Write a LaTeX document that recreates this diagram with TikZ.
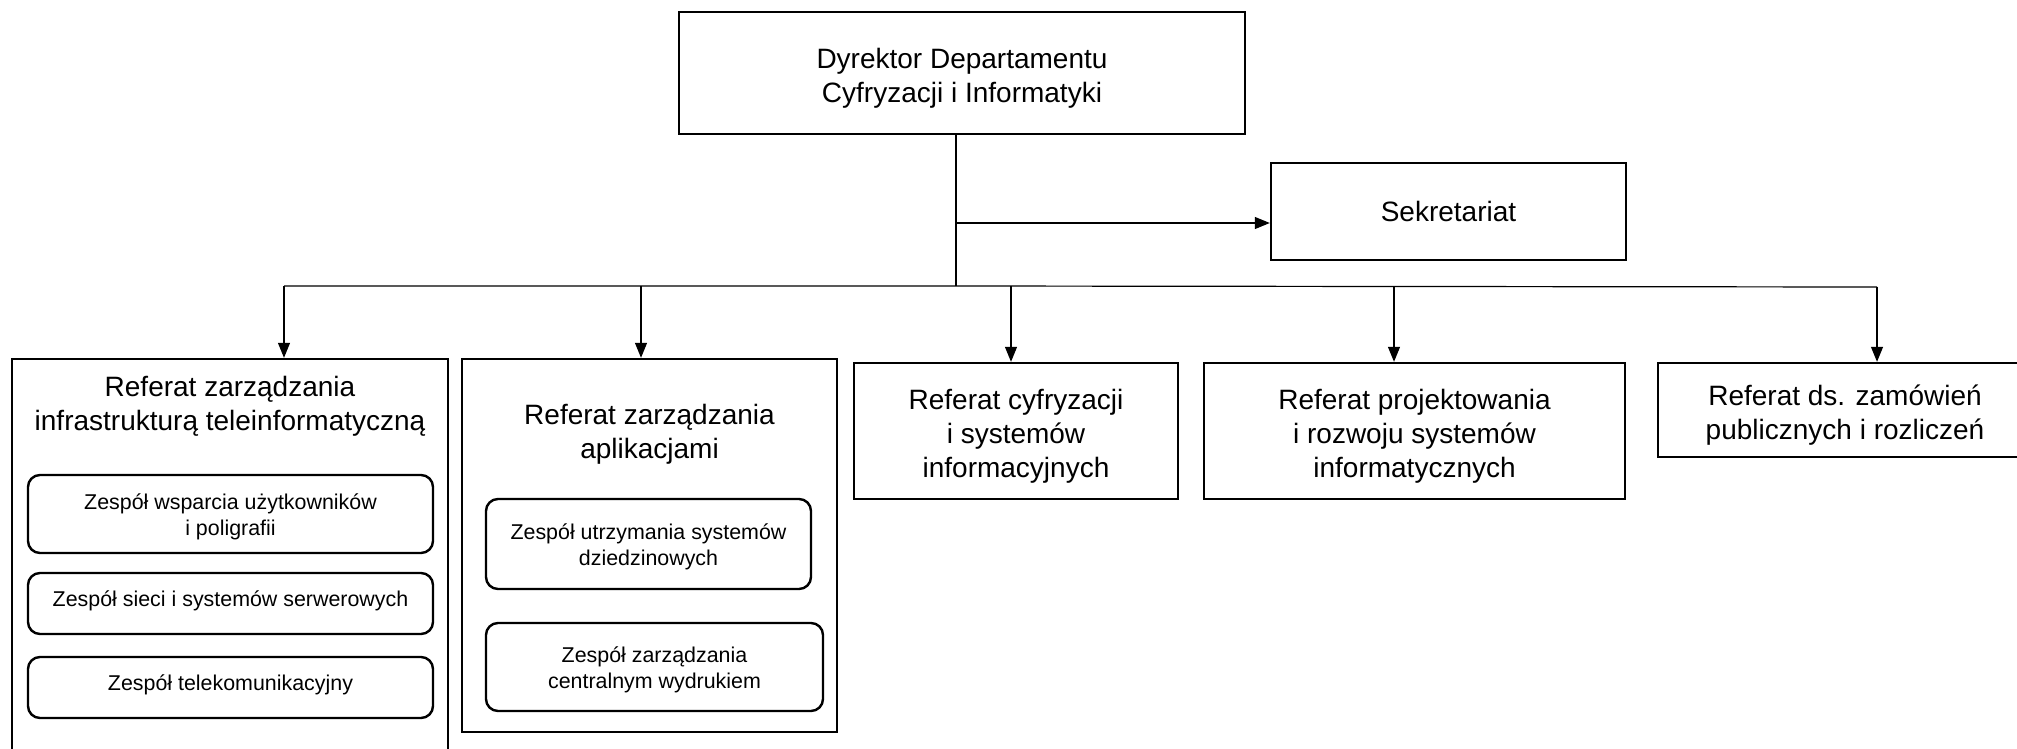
\documentclass[tikz,border=0pt]{standalone}
\usepackage{fontspec}
\setmainfont{Liberation Sans}
\usetikzlibrary{arrows.meta}
\newcommand{\bigtxt}{\fontsize{14}{17}\selectfont}
\newcommand{\smalltxt}{\fontsize{10.7}{12.9}\selectfont}
\newcommand{\dnbig}{\rule{0pt}{15pt}}
\newcommand{\dnsmall}{\rule{0pt}{10.9pt}}
\newcommand{\upsmall}{\rule[-4.6pt]{0pt}{4.6pt}}
\begin{document}
\begin{tikzpicture}[x=0.5pt,y=-0.5pt,
  box/.style={draw, line width=1.2pt, inner sep=0pt, align=center, font=\bigtxt},
  team/.style={box, rounded corners=6pt, font=\smalltxt},
  title/.style={inner sep=0pt, align=center, font=\bigtxt},
  conn/.style={line width=0.6pt},
  arr/.style={conn, -{Triangle[width=6pt,length=7.5pt]}}]
\useasboundingbox (0,0) rectangle (2017,749);
% top level
\node[box, minimum width=283pt, minimum height=61pt] (dyr) at (962,73) {\dnbig Dyrektor Departamentu\\Cyfryzacji i Informatyki};
\node[box, minimum width=177.5pt, minimum height=48.5pt] (sek) at (1448.5,211.5) {Sekretariat};
% referaty
\node[box, minimum width=218pt, minimum height=205.5pt] (r1) at (230,564.5) {};
\node[title] (t1) at (230,406.5) {Referat zarządzania\\infrastrukturą teleinformatyczną};
\node[box, minimum width=187.5pt, minimum height=186.5pt] (r2) at (649.5,545.5) {};
\node[title] (t2) at (649.5,434.5) {Referat zarządzania\\aplikacjami};
\node[box, minimum width=162pt, minimum height=68pt] (r3) at (1016,431) {\dnbig Referat cyfryzacji\\i systemów\\informacyjnych};
\node[box, minimum width=210.5pt, minimum height=68pt] (r4) at (1414.5,431) {\dnbig Referat projektowania\\i rozwoju systemów\\informatycznych};
\node[box, minimum width=187pt, minimum height=47pt] (r5) at (1845,410) {\dnbig Referat ds. zamówień\\publicznych i rozliczeń};
% zespoly
\node[team, minimum width=202.5pt, minimum height=39pt] (z1) at (230.5,514) {\dnsmall Zespół wsparcia użytkowników\\i poligrafii};
\node[team, minimum width=202.5pt, minimum height=30.5pt] (z2) at (230.5,603.5) {\upsmall Zespół sieci i systemów serwerowych};
\node[team, minimum width=202.5pt, minimum height=30.5pt] (z3) at (230.5,687.5) {\upsmall Zespół telekomunikacyjny};
\node[team, minimum width=162.5pt, minimum height=45pt] (za) at (648.5,544) {\dnsmall Zespół utrzymania systemów\\dziedzinowych};
\node[team, minimum width=168.5pt, minimum height=44pt] (zb) at (654.5,667) {\dnsmall Zespół zarządzania\\centralnym wydrukiem};
% connectors
\coordinate (sj) at (956,223);
\coordinate (trunk) at (956,286);
\coordinate (b1) at (284,286);
\coordinate (b2) at (641,286);
\coordinate (b3) at (1011,286);
\coordinate (b4) at (1394,286);
\coordinate (b5) at (1877,287);
\draw[conn] (dyr.south -| trunk) -- (trunk);
\draw[arr] (sj) -- (sj -| sek.west);
\draw[conn] (b1) -- (trunk) -- (b5);
\draw[arr] (b1) -- (b1 |- r1.north);
\draw[arr] (b2) -- (b2 |- r2.north);
\draw[arr] (b3) -- (b3 |- r3.north);
\draw[arr] (b4) -- (b4 |- r4.north);
\draw[arr] (b5) -- (b5 |- r5.north);
\end{tikzpicture}
\end{document}
